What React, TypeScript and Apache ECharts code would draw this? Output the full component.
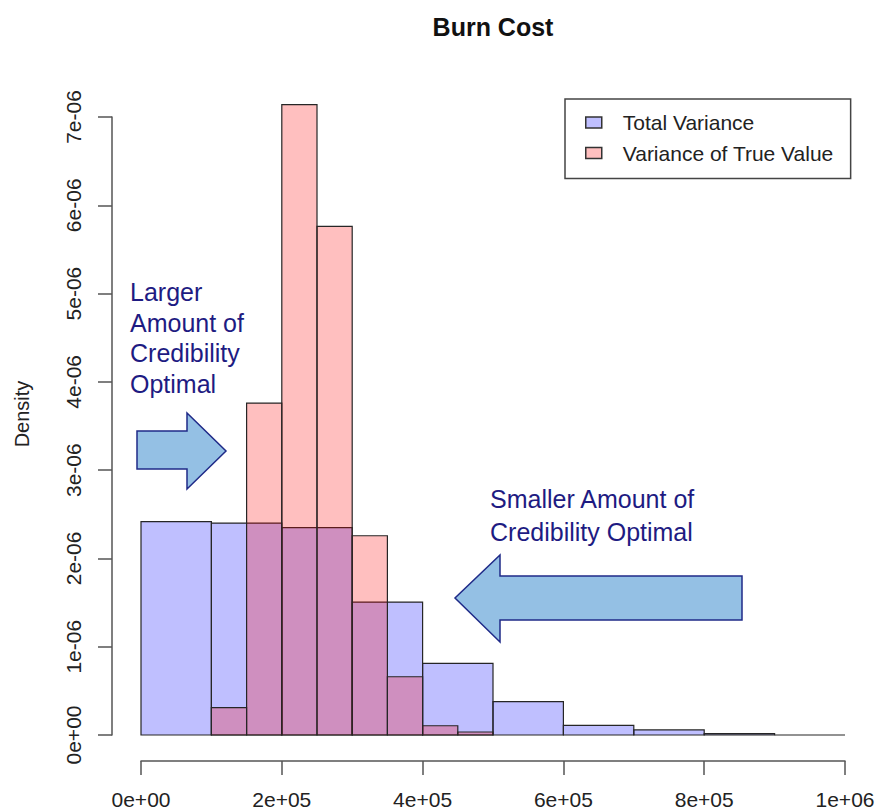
import React, { useEffect, useRef } from "react";
import * as echarts from "echarts";

// Histogram bins (breaks) and densities
const blueBreaks = [0, 100000, 200000, 300000, 400000, 500000, 600000, 700000, 800000, 900000, 1000000];
const blueDensity = [2.416e-6, 2.4e-6, 2.35e-6, 1.506e-6, 0.812e-6, 0.377e-6, 0.11e-6, 0.057e-6, 0.015e-6, 0.0];
const redBreaks = [100000, 150000, 200000, 250000, 300000, 350000, 400000, 450000, 500000];
const redDensity = [0.31e-6, 3.76e-6, 7.14e-6, 5.76e-6, 2.257e-6, 0.66e-6, 0.105e-6, 0.034e-6];

const xTickLabels = ["0e+00", "2e+05", "4e+05", "6e+05", "8e+05", "1e+06"];
const yTickLabels = ["0e+00", "1e-06", "2e-06", "3e-06", "4e-06", "5e-06", "6e-06", "7e-06"];

const seriesNames = ["Total Variance", "Variance of True Value"];

const FONT = "'Liberation Sans', Arial, Helvetica, sans-serif";
const BLUE_FILL = "rgba(0,0,255,0.25)";
const RED_FILL = "rgba(255,0,0,0.25)";
const BAR_STROKE = "#262626";
const NAVY = "#1e1b82";
const ARROW_FILL = "#94c0e4";
const ARROW_STROKE = "#1f2a88";

function toRects(breaks: number[], dens: number[]) {
  return dens.map((d, i) => [breaks[i], breaks[i + 1], d]);
}

function makeRender(fill: string) {
  return (params: any, api: any) => {
    const x0 = api.value(0);
    const x1 = api.value(1);
    const y = api.value(2);
    const p0 = api.coord([x0, y]);
    const p1 = api.coord([x1, 0]);
    return {
      type: "rect",
      shape: { x: p0[0], y: p0[1], width: p1[0] - p0[0], height: p1[1] - p0[1] },
      style: { fill, stroke: BAR_STROKE, lineWidth: 1.2 },
    };
  };
}

export default function App() {
  const ref = useRef<HTMLDivElement>(null);
  useEffect(() => {
    if (!ref.current) return;
    const chart = echarts.init(ref.current, null, { renderer: "svg" });
    chart.setOption({
      animation: false,
      backgroundColor: "#ffffff",
      textStyle: { fontFamily: FONT },
      title: {
        text: "Burn Cost",
        left: 493,
        top: 14,
        padding: 0,
        textAlign: "center",
        textStyle: { fontFamily: FONT, fontSize: 25, fontWeight: "bold", color: "#111" },
      },
      legend: {
        orient: "vertical",
        left: 565,
        top: 99,
        padding: [13, 17, 15, 20],
        itemGap: 9.5,
        itemWidth: 16,
        itemHeight: 11,
        icon: "rect",
        borderColor: "#444",
        borderWidth: 1.5,
        borderRadius: 0,
        textStyle: { fontFamily: FONT, fontSize: 21, color: "#222", padding: [0, 0, 0, 16] },
        data: [
          { name: seriesNames[0], itemStyle: { color: BLUE_FILL, borderColor: "#333", borderWidth: 1.5 } },
          { name: seriesNames[1], itemStyle: { color: RED_FILL, borderColor: "#333", borderWidth: 1.5 } },
        ],
      },
      grid: { left: 141, right: 35, top: 117, bottom: 75 },
      xAxis: {
        type: "value",
        min: 0,
        max: 1000000,
        interval: 200000,
        offset: 26,
        splitLine: { show: false },
        axisLine: { show: true, onZero: false, lineStyle: { color: "#555", width: 1.5 } },
        axisTick: { show: true, length: 14, lineStyle: { color: "#555", width: 1.5 } },
        axisLabel: {
          margin: 28,
          fontSize: 21,
          color: "#222",
          fontFamily: FONT,
          formatter: (v: number) => xTickLabels[Math.round(v / 200000)] ?? "",
        },
      },
      yAxis: {
        type: "value",
        min: 0,
        max: 7e-6,
        interval: 1e-6,
        offset: 29,
        name: "Density",
        nameLocation: "middle",
        nameGap: 80,
        nameTextStyle: { fontFamily: FONT, fontSize: 20, color: "#222", padding: [0, 0, 0, 24] },
        splitLine: { show: false },
        axisLine: { show: true, onZero: false, lineStyle: { color: "#555", width: 1.5 } },
        axisTick: { show: true, length: 14, lineStyle: { color: "#555", width: 1.5 } },
        axisLabel: {
          rotate: 90,
          margin: 28,
          fontSize: 21,
          color: "#222",
          fontFamily: FONT,
          formatter: (v: number) => yTickLabels[Math.round(v / 1e-6)] ?? "",
        },
      },
      series: [
        {
          name: seriesNames[0],
          type: "custom",
          renderItem: makeRender(BLUE_FILL),
          itemStyle: { color: BLUE_FILL },
          encode: { x: [0, 1], y: 2 },
          clip: false,
          data: toRects(blueBreaks, blueDensity),
          z: 2,
        },
        {
          name: seriesNames[1],
          type: "custom",
          renderItem: makeRender(RED_FILL),
          itemStyle: { color: RED_FILL },
          encode: { x: [0, 1], y: 2 },
          clip: false,
          data: toRects(redBreaks, redDensity),
          z: 3,
        },
      ],
      graphic: [
        {
          type: "text",
          left: 130,
          top: 277,
          style: {
            text: "Larger\nAmount of\nCredibility\nOptimal",
            font: `25px ${FONT}`,
            lineHeight: 30.5,
            fill: NAVY,
          },
        },
        {
          type: "polygon",
          shape: {
            points: [
              [137, 431],
              [187, 431],
              [187, 413],
              [226, 451],
              [187, 489],
              [187, 469],
              [137, 469],
            ],
          },
          style: { fill: ARROW_FILL, stroke: ARROW_STROKE, lineWidth: 1.5 },
        },
        {
          type: "text",
          left: 490,
          top: 482,
          style: {
            text: "Smaller Amount of\nCredibility Optimal",
            font: `25px ${FONT}`,
            lineHeight: 33,
            fill: NAVY,
          },
        },
        {
          type: "polygon",
          shape: {
            points: [
              [742, 576],
              [500, 576],
              [500, 555],
              [455, 598],
              [500, 642],
              [500, 620],
              [742, 620],
            ],
          },
          style: { fill: ARROW_FILL, stroke: ARROW_STROKE, lineWidth: 1.5 },
        },
      ],
    });
    return () => chart.dispose();
  }, []);
  return (
    <div
      ref={ref}
      style={{ position: "absolute", left: 0, top: 0, width: 880, height: 810, background: "#fff" }}
    />
  );
}
